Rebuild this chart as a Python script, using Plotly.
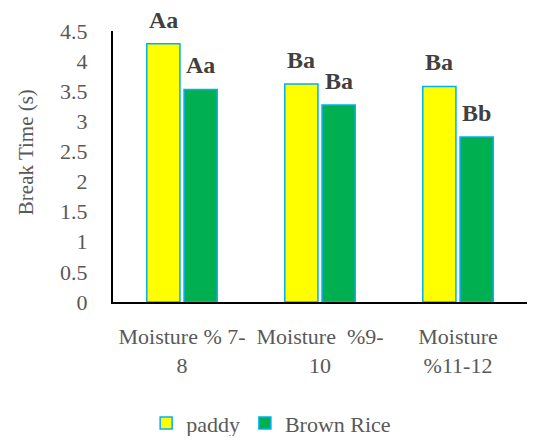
import plotly.graph_objects as go

categories = ["Moisture % 7-<br>8", "Moisture  %9-<br>10", "Moisture<br>%11-12"]
paddy = [4.29, 3.62, 3.58]
brown = [3.53, 3.27, 2.74]
paddy_labels = ["Aa", "Ba", "Ba"]
brown_labels = ["Aa", "Ba", "Bb"]

FONT = "Liberation Serif"
GREY = "#595959"

# page body has 8px default margin; figure sized to fit the 535x444 window
W, H = 519, 428
ml, mr, mt, mb = 105, 0, 23, 134
bargap, bargroupgap = 0.46, 0.11

fig = go.Figure()
fig.add_trace(go.Bar(name="paddy", x=categories, y=paddy,
                     marker=dict(color="#FFFF00", line=dict(color="#00B0F0", width=1.5))))
fig.add_trace(go.Bar(name="Brown Rice", x=categories, y=brown,
                     marker=dict(color="#00B050", line=dict(color="#00B0F0", width=1.5))))

cat_px = (W - ml - mr) / len(categories)
slot = cat_px * (1 - bargap) / 2
for i, c in enumerate(categories):
    for lab, val, sign in ((paddy_labels[i], paddy[i], -1), (brown_labels[i], brown[i], 1)):
        fig.add_annotation(x=c, y=val, xref="x", yref="y", text=f"<b>{lab}</b>",
                           showarrow=False, xshift=sign * slot / 2, yshift=9,
                           yanchor="bottom",
                           font=dict(family=FONT, size=24, color="#404040"))

# y-axis title
fig.add_annotation(text="Break Time (s)", xref="paper", yref="paper", x=0, y=0.553,
                   xanchor="center", yanchor="middle", xshift=-(ml - 18), textangle=-90,
                   showarrow=False, font=dict(family=FONT, size=21, color=GREY))

fig.update_layout(
    width=W, height=H,
    margin=dict(l=ml, r=mr, t=mt, b=mb, autoexpand=False),
    paper_bgcolor="white", plot_bgcolor="white",
    barmode="group", bargap=bargap, bargroupgap=bargroupgap,
    font=dict(family=FONT, size=22, color=GREY),
    showlegend=True,
    legend=dict(orientation="h", xref="container", yref="container",
                x=0.507, xanchor="center", y=0.03, yanchor="middle",
                font=dict(family=FONT, size=22, color=GREY)),
    xaxis=dict(showline=True, linecolor="black", linewidth=2, ticks="",
               showgrid=False, ticklabelstandoff=14,
               tickfont=dict(family=FONT, size=22, color=GREY)),
    yaxis=dict(range=[0, 4.5], dtick=0.5, showline=True, linecolor="black", linewidth=2,
               ticks="", showgrid=False, zeroline=False, ticklabelstandoff=19,
               tickfont=dict(family=FONT, size=22, color=GREY)),
)
fig.write_html("out.html")
